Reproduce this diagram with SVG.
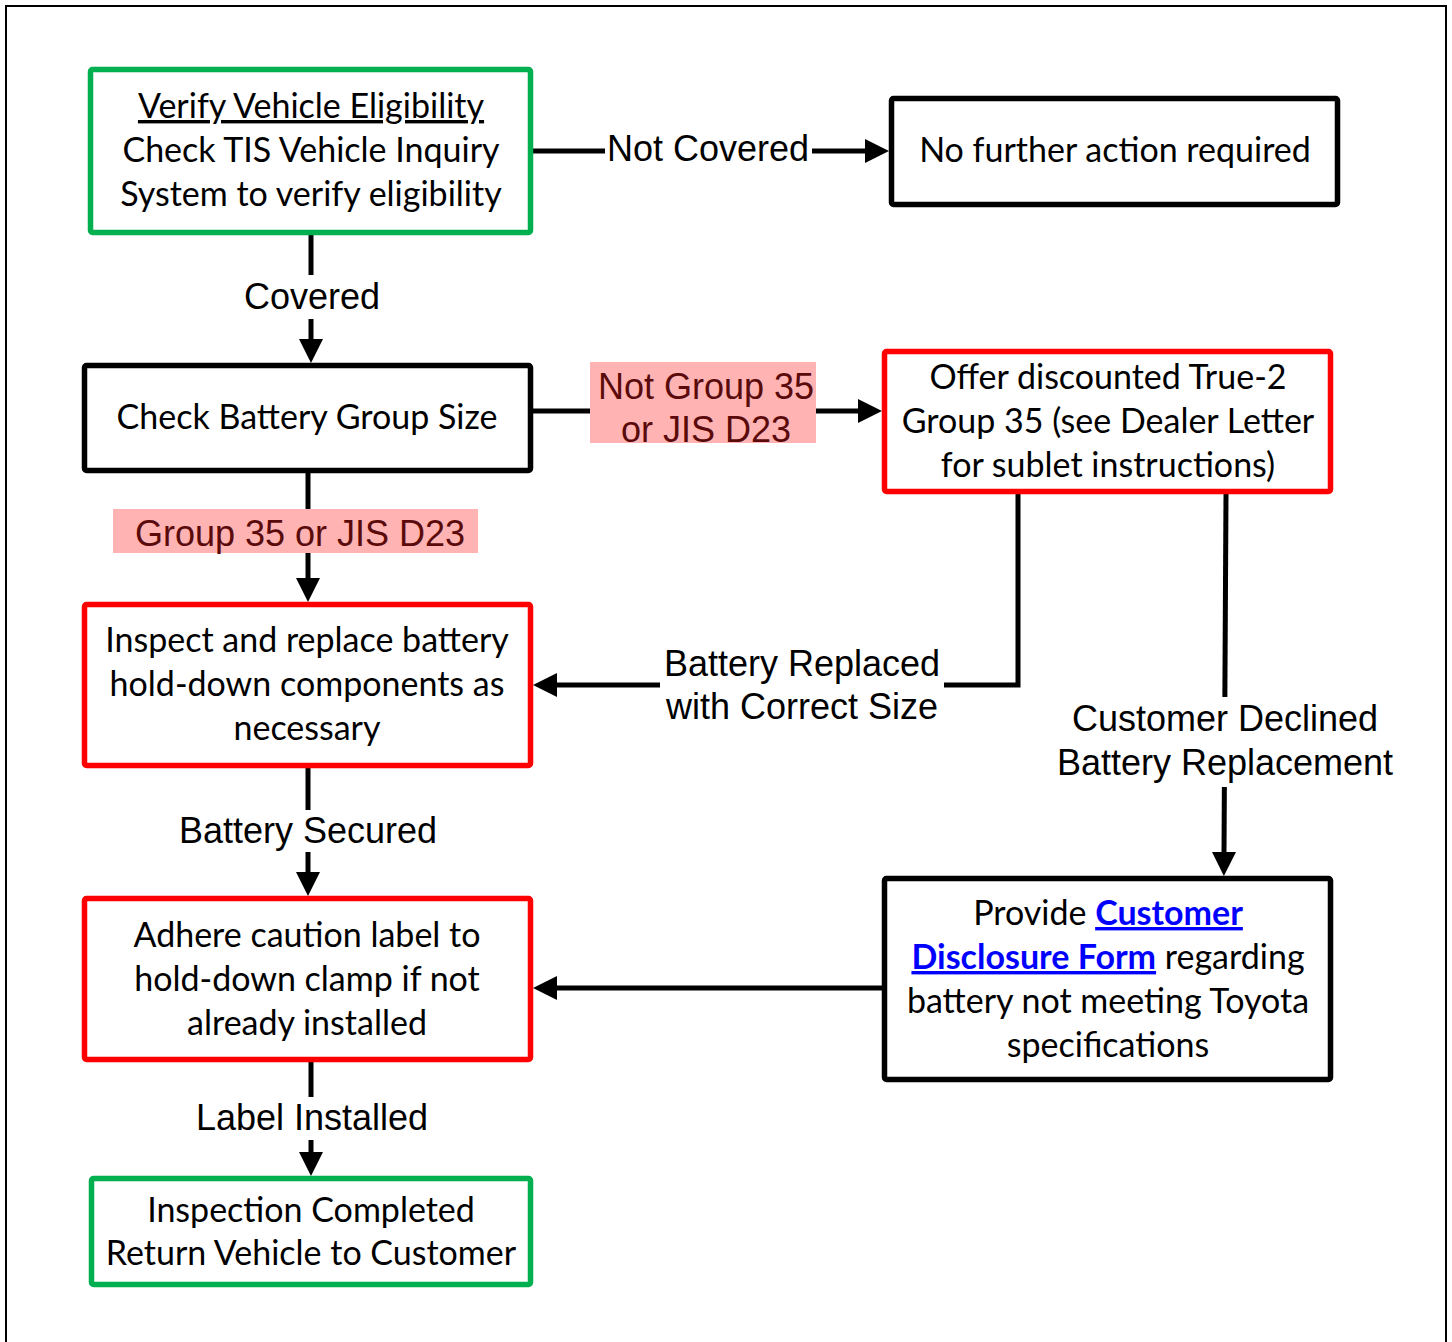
<svg xmlns="http://www.w3.org/2000/svg" width="1452" height="1342" viewBox="0 0 1452 1342">
<defs>
<style>
.box{fill:#fff;stroke-width:5.5;}
.g{stroke:#00B050;}
.r{stroke:#FF0000;}
.k{stroke:#000;}
.bt{font-family:Lato,"Open Sans",sans-serif;font-size:34px;fill:#000;text-anchor:middle;}
.lb{font-family:"Liberation Sans",Arial,sans-serif;font-size:36px;fill:#000;text-anchor:middle;}
.pk{fill:#FFB3B3;}
.pt{fill:#5A0A0A;}
.wb{fill:#fff;}
.ln{fill:none;stroke:#000;stroke-width:5;marker-end:url(#ah);}
.lnk{fill:#0000FF;font-weight:bold;text-decoration:underline;}
</style>
<marker id="ah" markerUnits="userSpaceOnUse" viewBox="0 0 24 24" refX="0" refY="12" markerWidth="24" markerHeight="24" orient="auto">
<path d="M0,0 L24,12 L0,24 Z" fill="#000"/>
</marker>
</defs>
<rect x="0" y="0" width="1452" height="1342" fill="#fff"/>
<rect x="6" y="6" width="1440" height="1360" fill="none" stroke="#000" stroke-width="2"/>

<g id="connectors">
<path class="ln" d="M533,151 H865"/>
<rect class="wb" x="605" y="128" width="207" height="44"/>
<text class="lb" x="708" y="161">Not Covered</text>

<path class="ln" d="M311,235 V339"/>
<rect class="wb" x="240" y="275" width="145" height="44"/>
<text class="lb" x="312" y="309">Covered</text>

<path class="ln" d="M533,411 H858"/>
<rect class="pk" x="590" y="362" width="226" height="81"/>
<text class="lb pt" x="706" y="399">Not Group 35</text>
<text class="lb pt" x="706" y="442">or JIS D23</text>

<path class="ln" d="M308,473 V578"/>
<rect class="pk" x="113" y="509" width="365" height="44"/>
<text class="lb pt" x="300" y="546">Group 35 or JIS D23</text>

<path class="ln" d="M1018,494 V685 H557"/>
<rect class="wb" x="660" y="642" width="284" height="86"/>
<text class="lb" x="802" y="676">Battery Replaced</text>
<text class="lb" x="802" y="719">with Correct Size</text>

<path class="ln" d="M1226,494 L1224,852"/>
<rect class="wb" x="1050" y="697" width="350" height="90"/>
<text class="lb" x="1225" y="731">Customer Declined</text>
<text class="lb" x="1225" y="775">Battery Replacement</text>

<path class="ln" d="M308,768 V872"/>
<rect class="wb" x="175" y="810" width="267" height="42"/>
<text class="lb" x="308" y="843">Battery Secured</text>

<path class="ln" d="M882,988 H557"/>

<path class="ln" d="M311,1062 V1152"/>
<rect class="wb" x="190" y="1097" width="245" height="43"/>
<text class="lb" x="312" y="1130">Label Installed</text>
</g>

<g id="verify">
<rect class="box g" x="90.5" y="69.5" width="440" height="163" rx="2"/>
<text class="bt" x="311" y="118" text-decoration="underline">Verify Vehicle Eligibility</text>
<text class="bt" x="311" y="162">Check TIS Vehicle Inquiry</text>
<text class="bt" x="311" y="206">System to verify eligibility</text>
</g>

<g id="nofurther">
<rect class="box k" x="891.5" y="98.5" width="446" height="106" rx="2"/>
<text class="bt" x="1115" y="162">No further action required</text>
</g>

<g id="checksize">
<rect class="box k" x="84.5" y="365.5" width="446" height="105" rx="2"/>
<text class="bt" x="307" y="429">Check Battery Group Size</text>
</g>

<g id="offer">
<rect class="box r" x="884.5" y="351.5" width="446" height="140" rx="2"/>
<text class="bt" x="1108" y="389">Offer discounted True-2</text>
<text class="bt" x="1108" y="433">Group 35 (see Dealer Letter</text>
<text class="bt" x="1108" y="477">for sublet instructions)</text>
</g>

<g id="inspect">
<rect class="box r" x="84.5" y="604.5" width="446" height="161" rx="2"/>
<text class="bt" x="307" y="652">Inspect and replace battery</text>
<text class="bt" x="307" y="696">hold-down components as</text>
<text class="bt" x="307" y="740">necessary</text>
</g>

<g id="adhere">
<rect class="box r" x="84.5" y="898.5" width="446" height="161" rx="2"/>
<text class="bt" x="307" y="947">Adhere caution label to</text>
<text class="bt" x="307" y="991">hold-down clamp if not</text>
<text class="bt" x="307" y="1035">already installed</text>
</g>

<g id="provide">
<rect class="box k" x="884.5" y="878.5" width="446" height="201" rx="2"/>
<text class="bt" x="1108" y="925">Provide <tspan class="lnk">Customer</tspan></text>
<text class="bt" x="1108" y="969"><tspan class="lnk">Disclosure Form</tspan> regarding</text>
<text class="bt" x="1108" y="1013">battery not meeting Toyota</text>
<text class="bt" x="1108" y="1057">specifications</text>
</g>

<g id="completed">
<rect class="box g" x="91.5" y="1178.5" width="439" height="106" rx="2"/>
<text class="bt" x="311" y="1222">Inspection Completed</text>
<text class="bt" x="311" y="1265">Return Vehicle to Customer</text>
</g>
</svg>
